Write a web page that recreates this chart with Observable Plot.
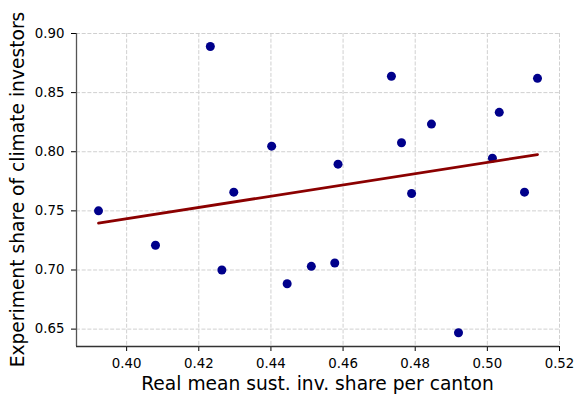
<!DOCTYPE html>
<html>
<head>
<meta charset="utf-8">
<script src="https://cdn.jsdelivr.net/npm/d3@7"></script>
<script src="https://cdn.jsdelivr.net/npm/@observablehq/plot@0.6"></script>
<style>
  html, body { margin: 0; padding: 0; background: #fff; }
  #chart svg { display: block; }
</style>
</head>
<body>
<div id="chart"></div>
<script>
// Real mean sustainable investment share per canton (x) vs experiment share of climate investors (y)
const realShare = [0.3922, 0.4080, 0.4232, 0.4264, 0.4297, 0.4402, 0.4445, 0.4512, 0.4577, 0.4586,
                   0.4734, 0.4762, 0.4790, 0.4845, 0.4920, 0.5014, 0.5033, 0.5103, 0.5139];
const experimentShare = [0.750, 0.7209, 0.889, 0.700, 0.7658, 0.8047, 0.6884, 0.7031, 0.7059, 0.7895,
                         0.8638, 0.8076, 0.7647, 0.8234, 0.6469, 0.7946, 0.8333, 0.7658, 0.8621];
const xTicks = [0.40, 0.42, 0.44, 0.46, 0.48, 0.50, 0.52];
const yTicks = [0.65, 0.70, 0.75, 0.80, 0.85, 0.90];
const xDomain = [0.3861, 0.52];
const yDomain = [0.6353, 0.90];
const xLabel = "Real mean sust. inv. share per canton";
const yLabel = "Experiment share of climate investors";

const data = realShare.map((x, i) => ({x, y: experimentShare[i]}));

const W = 574, H = 396;
const mL = 76, mR = 15, mT = 33, mB = 50;

const chart = Plot.plot({
  width: W,
  height: H,
  marginLeft: mL,
  marginRight: mR,
  marginTop: mT,
  marginBottom: mB,
  style: {fontFamily: "DejaVu Sans, sans-serif", fontSize: "13.33px", color: "#000", background: "#fff"},
  x: {domain: xDomain, ticks: xTicks, tickFormat: d3.format(".2f"), label: null},
  y: {domain: yDomain, ticks: yTicks, tickFormat: d3.format(".2f"), label: null},
  marks: [
    Plot.gridX(xTicks, {stroke: "#d0d0d0", strokeOpacity: 1, strokeWidth: 1, strokeDasharray: "4,1.7"}),
    Plot.gridY(yTicks, {stroke: "#d0d0d0", strokeOpacity: 1, strokeWidth: 1, strokeDasharray: "4,1.7"}),
    Plot.axisX(xTicks, {tickSize: 5, tickPadding: 7, stroke: "#000", fill: "#000", fontSize: 13.33, label: null}),
    Plot.axisY(yTicks, {tickSize: 5, tickPadding: 7, stroke: "#000", fill: "#000", fontSize: 13.33, label: null}),
    Plot.ruleX([xDomain[0]], {stroke: "#555", strokeWidth: 1.3}),
    Plot.ruleY([yDomain[0]], {stroke: "#333", strokeWidth: 1.3}),
    Plot.dot(data, {x: "x", y: "y", r: 4.5, fill: "#00008b", stroke: "none"}),
    Plot.linearRegressionY(data, {x: "x", y: "y", stroke: "#8b0000", strokeWidth: 2.8, ci: 0})
  ]
});

const svg = d3.select(chart);
svg.append("text")
  .attr("x", mL + (W - mL - mR) / 2)
  .attr("y", 390)
  .attr("text-anchor", "middle")
  .attr("font-family", "DejaVu Sans, sans-serif")
  .attr("font-size", "18.67px")
  .attr("fill", "#000")
  .text(xLabel);
svg.append("text")
  .attr("transform", `translate(23.5,${mT + (H - mT - mB) / 2}) rotate(-90)`)
  .attr("text-anchor", "middle")
  .attr("font-family", "DejaVu Sans, sans-serif")
  .attr("font-size", "18.67px")
  .attr("fill", "#000")
  .text(yLabel);

document.getElementById("chart").appendChild(chart);
</script>
</body>
</html>
